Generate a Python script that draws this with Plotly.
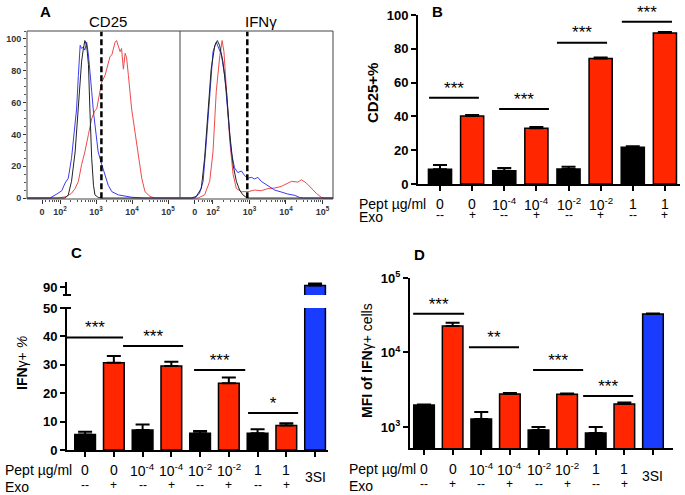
import math
import plotly.graph_objects as go

W, H = 685, 495
FONT = "Liberation Sans"

# ---------------- Panel A : flow-cytometry histograms (x = log10 fluorescence, y = % of max)
cd25_gate = 3.15
ifng_gate = 2.94

cd25_red_x = [1.09, 1.95, 2.19, 2.32, 2.42, 2.51, 2.60, 2.69, 2.79, 2.88, 2.97, 3.02, 3.06, 3.11, 3.16, 3.25,
              3.34, 3.39, 3.44, 3.48, 3.53, 3.57, 3.62, 3.67, 3.71, 3.76, 3.81, 3.85, 3.90, 3.99, 4.08, 4.18,
              4.27, 4.36, 4.50, 4.64, 5.33]
cd25_red_y = [0, 0, 1, 3, 6, 10.5, 21, 29, 40, 50, 55, 56, 61, 67, 73, 77,
              86, 89, 90, 94, 98, 99, 96, 92, 94, 81, 91, 88, 77, 56, 42, 25,
              12.5, 4, 1, 0, 0]
cd25_blue_x = [1.09, 1.72, 1.91, 2.05, 2.14, 2.23, 2.32, 2.42, 2.46, 2.51, 2.56, 2.60, 2.65, 2.69, 2.74, 2.79,
               2.83, 2.88, 2.93, 2.97, 3.06, 3.16, 3.25, 3.34, 3.44, 3.62, 3.99, 4.36, 5.33]
cd25_blue_y = [0, 0, 2.5, 4.6, 9.4, 12.5, 25, 46, 56, 77, 96, 94, 95, 93, 98, 90,
               77, 67, 54, 46, 29, 21, 15, 8, 4, 2, 0.5, 0, 0]
cd25_black_x = [1.09, 2.14, 2.23, 2.32, 2.42, 2.51, 2.60, 2.65, 2.69, 2.74, 2.79, 2.83, 2.88, 2.93, 2.97, 3.06,
                3.16, 5.33]
cd25_black_y = [0, 0, 2, 10.5, 29, 56, 86, 94, 99, 96, 84, 56, 25, 8, 2, 0.4, 0, 0]

ifng_red_x = [1.10, 1.59, 1.77, 1.91, 2.00, 2.09, 2.18, 2.25, 2.30, 2.37, 2.46, 2.55, 2.64, 2.78, 2.96, 3.14,
              3.32, 3.51, 3.69, 3.87, 3.96, 4.15, 4.33, 4.42, 4.56, 4.69, 4.83, 4.97, 5.06, 5.29]
ifng_red_y = [0, 0, 2, 10.5, 29, 67, 88, 99, 92, 67, 36, 15, 6, 4, 4, 5,
              4.6, 6, 6.3, 7.3, 8.4, 10.5, 10, 11.5, 9.4, 6.3, 3, 0.4, 0, 0]
ifng_blue_x = [1.10, 1.50, 1.63, 1.73, 1.82, 1.91, 2.00, 2.09, 2.16, 2.23, 2.32, 2.41, 2.50, 2.59, 2.68, 2.78,
               2.87, 2.96, 3.05, 3.14, 3.23, 3.32, 3.42, 3.51, 3.69, 3.87, 4.05, 4.24, 4.37, 4.47, 5.29]
ifng_blue_y = [0, 0, 3, 10.5, 36, 67, 92, 98, 94, 90, 77, 50, 29, 19, 16, 17,
               14, 12.5, 13, 12, 13, 10.5, 9, 7.3, 5, 3.8, 2.5, 1.7, 0.4, 0, 0]
ifng_black_x = [1.10, 1.41, 1.54, 1.68, 1.77, 1.86, 1.95, 2.05, 2.12, 2.18, 2.27, 2.37, 2.46, 2.55, 2.64, 2.73,
                2.82, 2.91, 3.00, 5.29]
ifng_black_y = [0, 0, 1, 6, 25, 56, 81, 96, 99, 96, 86, 67, 40, 21, 10.5, 5, 2, 0.4, 0, 0]

a_tick_vals = [1.5, 2, 3, 4, 5]
a_tick_text = ["0", "10<sup>2</sup>", "10<sup>3</sup>", "10<sup>4</sup>", "10<sup>5</sup>"]

# ---------------- Panels B, C, D : bar charts
pept_labels = ["0", "0", "10<sup>-4</sup>", "10<sup>-4</sup>", "10<sup>-2</sup>", "10<sup>-2</sup>", "1", "1"]
exo_labels = ["--", "+", "--", "+", "--", "+", "--", "+"]
pair_colors = ["#000000", "#ff2600"] * 4
ctrl_label = "3SI"
ctrl_color = "#1a3cff"

b_vals = [8.7, 40.2, 7.9, 33.0, 8.9, 74.2, 21.8, 89.3]
b_err = [2.5, 0.6, 1.6, 0.7, 1.3, 0.6, 0.6, 0.6]
b_sig_x0 = [-0.34, 1.84, 3.64, 5.66]
b_sig_x1 = [1.21, 3.39, 5.20, 7.22]
b_sig_y = [51, 44.4, 83.6, 96]
b_sig_txt = ["***", "***", "***", "***"]

c_vals = [5.5, 30.7, 7.0, 29.6, 5.9, 23.5, 5.9, 8.6, 90.8]
c_err = [0.9, 2.4, 2.0, 1.5, 0.8, 2.0, 1.4, 0.8, 1.0]
c_sig_x0 = [-0.63, 1.32, 3.79, 5.67]
c_sig_x1 = [1.32, 3.41, 5.57, 7.41]
c_sig_y = [39.6, 36.6, 28.2, 13.0]
c_sig_txt = ["***", "***", "***", "*"]

d_vals = [1970, 22700, 1280, 2770, 910, 2750, 830, 2030, 32900]
d_err = [40, 2400, 310, 80, 90, 60, 170, 100, 400]
d_sig_x0 = [-0.38, 1.57, 3.81, 5.56]
d_sig_x1 = [1.40, 3.32, 5.56, 7.31]
d_sig_y = [33000, 11800, 5800, 2600]
d_sig_txt = ["***", "**", "***", "***"]


def X(p):
    return p / W


def Y(p):
    return 1 - p / H


fig = go.Figure()

# ---- histograms
hist_sets = [
    ("x", cd25_red_x, cd25_red_y, "#f04a4a"),
    ("x", cd25_blue_x, cd25_blue_y, "#3a3af0"),
    ("x", cd25_black_x, cd25_black_y, "#222222"),
    ("x2", ifng_red_x, ifng_red_y, "#f04a4a"),
    ("x2", ifng_blue_x, ifng_blue_y, "#3a3af0"),
    ("x2", ifng_black_x, ifng_black_y, "#222222"),
]
for xa, xs, ys, col in hist_sets:
    fig.add_trace(go.Scatter(x=xs, y=ys, xaxis=xa, yaxis="y", mode="lines",
                             line=dict(color=col, width=1), showlegend=False, hoverinfo="skip"))


def bars(vals, errs, colors, xa, ya, idx=None):
    n = len(vals)
    idx = list(range(n)) if idx is None else idx
    fig.add_trace(go.Bar(
        x=idx, y=[vals[i] for i in idx], xaxis=xa, yaxis=ya, width=0.72,
        marker=dict(color=[colors[i] for i in idx], line=dict(color="black", width=1.5)),
        error_y=dict(type="data", array=[errs[i] for i in idx], arrayminus=[0] * len(idx),
                     symmetric=False, color="black", thickness=2, width=7),
        showlegend=False, hoverinfo="skip"))


def sig(x0s, x1s, ys, txts, xa, ya):
    lx, ly = [], []
    for a, b, y in zip(x0s, x1s, ys):
        lx += [a, b, None]
        ly += [y, y, None]
    fig.add_trace(go.Scatter(x=lx, y=ly, xaxis=xa, yaxis=ya, mode="lines",
                             line=dict(color="black", width=2), showlegend=False, hoverinfo="skip"))
    fig.add_trace(go.Scatter(x=[(a + b) / 2 for a, b in zip(x0s, x1s)], y=ys, text=txts,
                             xaxis=xa, yaxis=ya, mode="text", textposition="top center",
                             textfont=dict(family=FONT, size=17, color="black"),
                             showlegend=False, hoverinfo="skip", cliponaxis=False))


cd_colors = pair_colors + [ctrl_color]
bars(b_vals, b_err, pair_colors, "x3", "y3")
sig(b_sig_x0, b_sig_x1, b_sig_y, b_sig_txt, "x3", "y3")

bars(c_vals, c_err, cd_colors, "x4", "y4")
bars(c_vals, c_err, cd_colors, "x4", "y6", idx=[i for i, v in enumerate(c_vals) if v > 50])
sig(c_sig_x0, c_sig_x1, c_sig_y, c_sig_txt, "x4", "y4")

bars(d_vals, d_err, cd_colors, "x5", "y5")
sig(d_sig_x0, d_sig_x1, d_sig_y, d_sig_txt, "x5", "y5")

# ---- axes
small_font = dict(family=FONT, size=9, color="#333333", weight="bold")
minor_a = [math.log10(k) + d for d in (1, 2, 3, 4) for k in range(2, 10) if 1.6 < math.log10(k) + d < 5.3]


def a_xaxis(x0, x1, rng):
    return dict(domain=[X(x0), X(x1)], range=rng, anchor="y", showline=False, showgrid=False, zeroline=False,
                automargin=False,
                ticks="outside", ticklen=4, tickwidth=1, tickcolor="#333", tickvals=a_tick_vals,
                ticktext=a_tick_text, tickfont=small_font,
                minor=dict(tickvals=minor_a, ticks="outside", ticklen=2, tickwidth=1, tickcolor="#555"))


def bx(x0, x1, rng, anchor, n):
    return dict(domain=[X(x0), X(x1)], range=rng, anchor=anchor, showline=True, linewidth=2, linecolor="black",
                ticks="outside", tickvals=list(range(n)), ticklen=5, tickwidth=2, tickcolor="black",
                showticklabels=False, showgrid=False, zeroline=False, automargin=False)


big_tick = dict(family=FONT, size=13, color="black", weight="bold")


def by(y0, y1, rng, anchor, tickvals, ticktext=None, typ="linear"):
    d = dict(domain=[Y(y1), Y(y0)], range=rng, anchor=anchor, showline=True, linewidth=2, linecolor="black",
             ticks="outside", tickvals=tickvals, ticklen=5, tickwidth=2, tickcolor="black",
             tickfont=big_tick, showgrid=False, zeroline=False, type=typ, automargin=False)
    if ticktext is not None:
        d["ticktext"] = ticktext
    return d


fig.update_layout(
    template="none",
    width=W, height=H, margin=dict(l=0, r=0, t=0, b=0, pad=0, autoexpand=False),
    paper_bgcolor="white", plot_bgcolor="rgba(0,0,0,0)",
    font=dict(family=FONT, color="black"),
    showlegend=False,
    xaxis=a_xaxis(27, 180, [1.083, 5.333]),
    xaxis2=a_xaxis(180, 333, [1.096, 5.288]),
    yaxis=dict(domain=[Y(199), Y(31)], range=[-0.6, 105], anchor="x", showline=False, showgrid=False,
               zeroline=False, automargin=False, ticks="outside", ticklen=3, tickwidth=1, tickcolor="#333",
               tickvals=[0, 20, 40, 60, 80, 100], tickfont=small_font,
               minor=dict(dtick=5, ticks="outside", ticklen=2, tickwidth=1, tickcolor="#555")),
    xaxis3=bx(418, 680, [-0.685, 7.47], "y3", 8),
    yaxis3=by(15, 184, [0, 100], "x3", [0, 20, 40, 60, 80, 100]),
    xaxis4=bx(67, 328, [-0.63, 8.45], "y4", 9),
    yaxis4=by(308, 450, [0, 50], "x4", [0, 10, 20, 30, 40, 50]),
    yaxis6=by(282, 295, [86, 92.5], "x4", [90]),
    xaxis5=bx(410, 673, [-0.49, 8.7], "y5", 9),
    yaxis5=by(278, 448, [math.log10(522), 5], "x5", [1000, 10000, 100000],
              ["10<sup>3</sup>", "10<sup>4</sup>", "10<sup>5</sup>"], typ="log"),
)

# ---- shapes: panel A frame, gates, axis break marks
shapes = [
    dict(type="rect", xref="paper", yref="paper", x0=X(27), x1=X(333), y0=Y(199), y1=Y(31),
         line=dict(color="#444", width=1)),
    dict(type="line", xref="paper", yref="paper", x0=X(180), x1=X(180), y0=Y(199), y1=Y(31),
         line=dict(color="#444", width=1)),
    dict(type="line", xref="x", yref="y domain", x0=cd25_gate, x1=cd25_gate, y0=0.005, y1=0.995,
         line=dict(color="black", width=2.5, dash="6px,3px")),
    dict(type="line", xref="x2", yref="y domain", x0=ifng_gate, x1=ifng_gate, y0=0.005, y1=0.995,
         line=dict(color="black", width=2.5, dash="6px,3px")),
    dict(type="line", xref="paper", yref="paper", x0=X(63), x1=X(71), y0=Y(295), y1=Y(295),
         line=dict(color="black", width=2)),
    dict(type="line", xref="paper", yref="paper", x0=X(63), x1=X(71), y0=Y(308), y1=Y(308),
         line=dict(color="black", width=2)),
]
fig.update_layout(shapes=shapes)

ann = []


def note(text, x, y, size=14, xref="paper", xanchor="center", angle=0, bold=False):
    if bold:
        text = "<b>" + text + "</b>"
    ann.append(dict(text=text, x=(X(x) if xref == "paper" else x), y=Y(y), xref=xref, yref="paper",
                    xanchor=xanchor, yanchor="middle", showarrow=False, textangle=angle,
                    font=dict(family=FONT, size=size, color="black")))


# panel letters and titles
note("A", 45, 11, 15, bold=True)
note("B", 437, 11, 15, bold=True)
note("C", 76, 253, 15, bold=True)
note("D", 419, 254, 15, bold=True)
note("CD25", 108, 21, 15)
note("IFNγ", 261, 21, 15)

# y titles
note("CD25+%", 372, 93, 15, angle=-90, bold=True)
note("<b>IFN</b>γ+ <i>%</i>", 22, 363, 14, angle=-90)
note("<b>MFI of IFN</b>γ+ cells", 367, 361, 14, angle=-90)

# x category rows
for (xa, yr1, yr2, xl, n) in [("x3", 204, 217, 357, 8), ("x4", 470, 487, 3, 8), ("x5", 469, 486, 347, 8)]:
    note("Pept µg/ml", xl, yr1, 14, xanchor="left")
    note("Exo", xl, yr2, 14, xanchor="left")
    for i in range(n):
        note(pept_labels[i], i, yr1, 14, xref=xa)
        note(exo_labels[i], i, yr2 - 2, 12, xref=xa)
note(ctrl_label, 8, 477, 14, xref="x4")
note(ctrl_label, 8, 476, 14, xref="x5")

fig.update_layout(annotations=ann)

fig.write_html("out.html", config={"displayModeBar": False, "staticPlot": True},
               post_script="document.body.style.margin='0px';document.body.style.overflow='hidden';")
